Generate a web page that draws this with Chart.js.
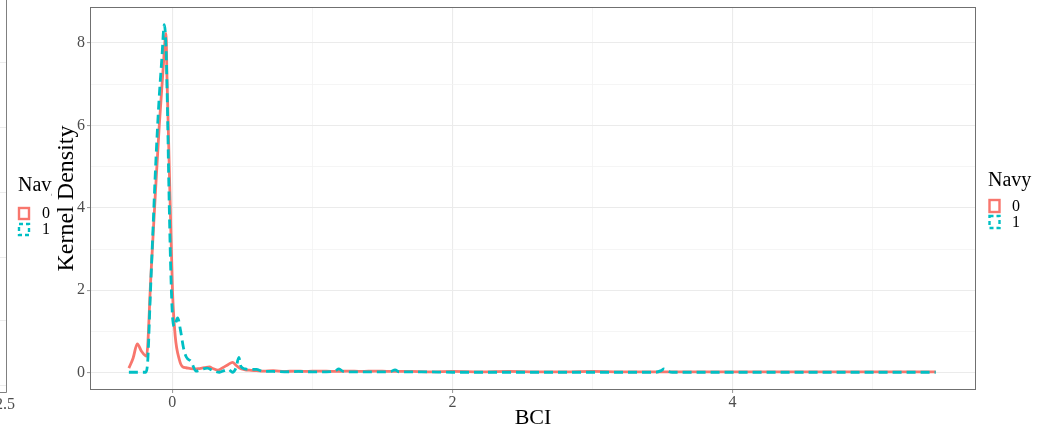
<!DOCTYPE html>
<html><head><meta charset="utf-8">
<script src="https://cdn.jsdelivr.net/npm/chart.js@4.4.1/dist/chart.umd.min.js"></script>
<style>html,body{margin:0;padding:0;background:#fff;overflow:hidden}canvas{display:block}</style>
</head><body>
<canvas id="c" width="1054" height="435" style="width:1054px;height:435px"></canvas>
<script>
// ---- data ----
const seriesLabels = ['0', '1'];
const legendTitle = 'Navy';
const xTitle = 'BCI';
const yTitle = 'Kernel Density';
const xTickValues = [0, 2, 4];
const yTickValues = [0, 2, 4, 6, 8];
const xRange = [-0.5875, 5.7375];
const yRange = [-0.42, 8.87];

const xNavy0 = [-0.31,-0.28,-0.25,-0.22,-0.184,-0.153,-0.12,-0.093,-0.065,-0.045,-0.038,-0.026,-0.014,0.002,0.021,0.05,0.074,0.098,0.13,0.17,0.19,0.23,0.265,0.29,0.325,0.36,0.40,0.43,0.455,0.48,0.52,0.55,0.60,0.65,0.72,0.80,0.88,0.95,1.05,1.15,1.25,1.35,1.45,1.55,1.70,1.85,2.00,2.20,2.40,2.60,2.80,3.00,3.20,3.40,3.60,3.80,4.00,4.20,4.40,4.60,4.80,5.00,5.20,5.45];
const yNavy0 = [0.11,0.35,0.70,0.52,0.40,2.33,4.4,6.0,7.4,8.23,7.18,5.57,3.95,1.93,0.88,0.32,0.14,0.12,0.10,0.09,0.10,0.12,0.14,0.10,0.06,0.12,0.20,0.25,0.18,0.11,0.07,0.06,0.05,0.04,0.05,0.03,0.04,0.03,0.04,0.03,0.04,0.03,0.04,0.03,0.03,0.02,0.03,0.02,0.03,0.02,0.02,0.03,0.02,0.02,0.02,0.02,0.02,0.02,0.02,0.02,0.02,0.02,0.02,0.02];

const xNavy1 = [-0.31,-0.25,-0.19,-0.175,-0.16,-0.14,-0.117,-0.095,-0.075,-0.057,-0.045,-0.035,-0.025,-0.012,0.0,0.014,0.038,0.06,0.08,0.10,0.134,0.17,0.21,0.25,0.29,0.337,0.37,0.40,0.43,0.455,0.475,0.49,0.52,0.55,0.60,0.65,0.72,0.80,0.90,1.00,1.10,1.16,1.19,1.22,1.30,1.40,1.50,1.56,1.59,1.62,1.80,2.00,2.30,2.60,2.90,3.20,3.45,3.49,3.51,3.53,3.57,3.80,4.10,4.40,4.70,5.00,5.20,5.45];
const yNavy1 = [0.01,0.01,0.01,0.3,1.6,3.3,5.16,6.6,7.6,8.44,7.9,6.5,4.6,2.6,1.45,1.12,1.33,1.0,0.6,0.38,0.27,0.04,0.08,0.11,0.05,0.01,0.05,0.08,0.01,0.12,0.37,0.15,0.09,0.08,0.08,0.03,0.03,0.02,0.03,0.02,0.02,0.04,0.09,0.03,0.02,0.02,0.02,0.03,0.07,0.02,0.02,0.01,0.01,0.01,0.01,0.01,0.01,0.05,0.09,0.05,0.01,0.01,0.01,0.01,0.01,0.01,0.01,0.01];

const seriesColors = ['#F8766D', '#00BFC4'];

// ---- helpers ----
const toPts = (xs, ys) => xs.map((x, i) => ({x: x, y: ys[i]}));
const withMinor = (majors, lo, hi) => {
  const step = majors[1] - majors[0];
  const all = [];
  for (const m of majors) { all.push(m); }
  for (const m of majors) { all.push(m - step / 2, m + step / 2); }
  return [...new Set(all)].filter(v => v >= lo && v <= hi).sort((a, b) => a - b);
};
const isMajor = (arr, v) => arr.some(m => Math.abs(m - v) < 1e-9);

const SERIF = "'Liberation Serif', 'DejaVu Serif', 'Times New Roman', serif";
Chart.defaults.font.family = SERIF;

const decor = {
  id: 'decor',
  beforeDraw(chart) {
    const ctx = chart.ctx;
    ctx.save();
    ctx.fillStyle = '#fff';
    ctx.fillRect(0, 0, chart.width, chart.height);
    // remnant of a neighbouring panel on the far left
    ctx.strokeStyle = '#ececec'; ctx.lineWidth = 1;
    [62, 127, 192, 257, 320, 385].forEach(y => {
      ctx.beginPath(); ctx.moveTo(0, y + 0.5); ctx.lineTo(6, y + 0.5); ctx.stroke();
    });
    ctx.strokeStyle = '#808080';
    ctx.beginPath(); ctx.moveTo(6.5, 0); ctx.lineTo(6.5, 392.5); ctx.lineTo(0, 392.5); ctx.stroke();
    ctx.fillStyle = '#4d4d4d';
    ctx.font = '16px ' + SERIF;
    ctx.textAlign = 'right'; ctx.textBaseline = 'middle';
    ctx.fillText('2.5', 15, 405);
    ctx.beginPath(); ctx.rect(0, 0, 52, chart.height); ctx.clip();
    ctx.fillStyle = '#000';
    ctx.textAlign = 'left'; ctx.textBaseline = 'alphabetic';
    ctx.font = '20px ' + SERIF;
    ctx.fillText(legendTitle, 18, 191);
    ctx.font = '16px ' + SERIF; ctx.textBaseline = 'middle';
    seriesLabels.forEach((lab, i) => {
      const y = 207 + i * 16;
      ctx.strokeStyle = seriesColors[i]; ctx.lineWidth = 2.4;
      ctx.setLineDash(i === 1 ? [4, 3] : []);
      ctx.strokeRect(19, y + 1, 10, 11);
      ctx.setLineDash([]);
      ctx.fillStyle = '#000';
      ctx.fillText(lab, 42, y + 7);
    });
    ctx.restore();
  },
  afterDraw(chart) {
    const ctx = chart.ctx, a = chart.chartArea;
    ctx.save();
    ctx.strokeStyle = '#707070'; ctx.lineWidth = 1;
    ctx.strokeRect(Math.round(a.left) + 0.5, Math.round(a.top) + 0.5,
                   Math.round(a.right - a.left) - 1, Math.round(a.bottom - a.top) - 1);
    // legend on the right
    const lx = a.right + 12;
    ctx.fillStyle = '#000';
    ctx.font = '20px ' + SERIF;
    ctx.textAlign = 'left'; ctx.textBaseline = 'alphabetic';
    ctx.fillText(legendTitle, lx, 186);
    ctx.font = '16px ' + SERIF; ctx.textBaseline = 'middle';
    chart.data.datasets.forEach((ds, i) => {
      const y = 199 + i * 16;
      ctx.strokeStyle = ds.borderColor; ctx.lineWidth = 2.4;
      ctx.setLineDash(ds.borderDash && ds.borderDash.length ? [4, 3] : []);
      ctx.strokeRect(lx + 1.5, y + 1, 10, 12);
      ctx.setLineDash([]);
      ctx.fillStyle = '#000';
      ctx.fillText(ds.label, lx + 24, y + 8);
    });
    ctx.restore();
  }
};

const xGridTicks = withMinor(xTickValues, xRange[0], xRange[1]);
const yGridTicks = withMinor(yTickValues, yRange[0], yRange[1]);

new Chart(document.getElementById('c'), {
  type: 'line',
  data: {
    datasets: [
      { label: seriesLabels[0], data: toPts(xNavy0, yNavy0), borderColor: seriesColors[0],
        borderWidth: 2.8, pointRadius: 0, fill: false, cubicInterpolationMode: 'monotone', order: 2 },
      { label: seriesLabels[1], data: toPts(xNavy1, yNavy1), borderColor: seriesColors[1],
        borderWidth: 2.8, borderDash: [9, 5], pointRadius: 0, fill: false, cubicInterpolationMode: 'monotone', order: 1 }
    ]
  },
  options: {
    responsive: false,
    animation: false,
    devicePixelRatio: 1,
    layout: { padding: { left: 49, right: 78, top: 7, bottom: 0 } },
    plugins: { legend: { display: false }, tooltip: { enabled: false } },
    scales: {
      x: {
        type: 'linear', min: xRange[0], max: xRange[1],
        afterBuildTicks: s => { s.ticks = xGridTicks.map(v => ({value: v})); },
        afterFit: s => { s.height = 45; s.paddingLeft = 0; s.paddingRight = 0; },
        border: { display: false },
        grid: {
          color: c => isMajor(xTickValues, c.tick.value) ? '#ebebeb' : '#f3f3f3',
          lineWidth: c => isMajor(xTickValues, c.tick.value) ? 1.1 : 0.8,
          tickColor: c => isMajor(xTickValues, c.tick.value) ? '#a0a0a0' : 'rgba(0,0,0,0)',
          tickLength: 3, drawTicks: true
        },
        ticks: {
          autoSkip: false, maxRotation: 0, padding: 0, color: '#4d4d4d',
          font: { size: 16, family: SERIF },
          callback: v => isMajor(xTickValues, v) ? String(v) : ''
        },
        title: { display: true, text: xTitle, color: '#000', font: { size: 22, family: SERIF }, padding: { top: 0, bottom: 4 } }
      },
      y: {
        type: 'linear', min: yRange[0], max: yRange[1],
        afterBuildTicks: s => { s.ticks = yGridTicks.map(v => ({value: v})); },
        afterFit: s => { s.width = 41; s.paddingTop = 0; s.paddingBottom = 0; },
        border: { display: false },
        grid: {
          color: c => isMajor(yTickValues, c.tick.value) ? '#ebebeb' : '#f3f3f3',
          lineWidth: c => isMajor(yTickValues, c.tick.value) ? 1.1 : 0.8,
          tickColor: c => isMajor(yTickValues, c.tick.value) ? '#a0a0a0' : 'rgba(0,0,0,0)',
          tickLength: 3, drawTicks: true
        },
        ticks: {
          autoSkip: false, padding: 2, color: '#4d4d4d',
          font: { size: 16, family: SERIF },
          callback: v => isMajor(yTickValues, v) ? String(v) : ''
        },
        title: { display: true, text: yTitle, color: '#000', font: { size: 24, family: SERIF }, padding: { top: 3, bottom: 0 } }
      }
    }
  },
  plugins: [decor]
});
</script>
</body></html>
